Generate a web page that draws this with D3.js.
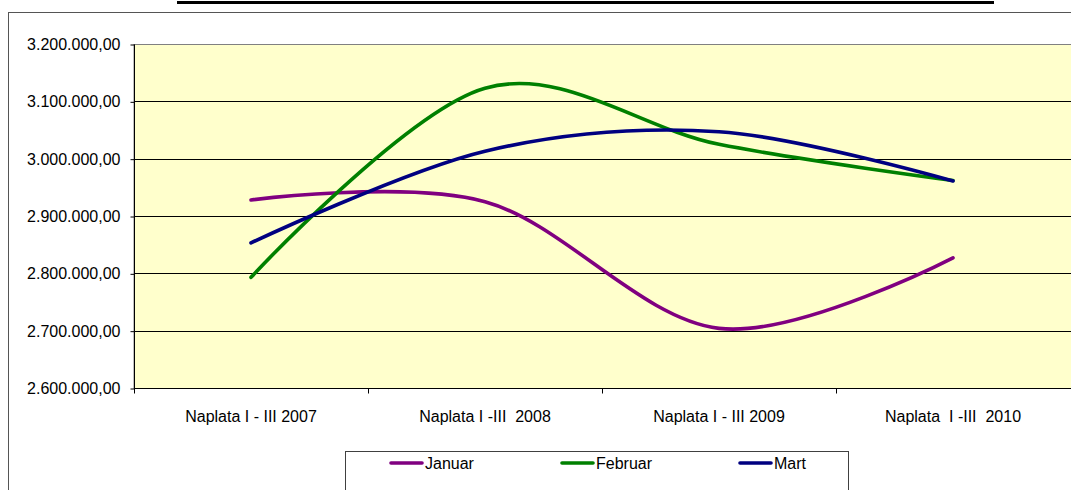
<!DOCTYPE html>
<html>
<head>
<meta charset="utf-8">
<script src="https://cdn.jsdelivr.net/npm/d3@7"></script>
<style>
  body { margin: 0; background: #fff; }
  svg { display: block; font-family: "Liberation Sans", Arial, sans-serif; }
  text { white-space: pre; }
</style>
</head>
<body>
<div id="chart"></div>
<script>
var
  categories = ["Naplata I - III 2007", "Naplata I -III  2008", "Naplata I - III 2009", "Naplata  I -III  2010"],
  seriesNames = ["Januar", "Februar", "Mart"],
  januar = [2928000, 2925000, 2704000, 2827000],
  februar = [2793000, 3123000, 3025000, 2962000],
  mart = [2853000, 3013000, 3047000, 2961000],
  yTicks = [2600000, 2700000, 2800000, 2900000, 3000000, 3100000, 3200000],
  seriesColors = ["#800080", "#008000", "#000080"];

var
  WIDTH = 1071,
  HEIGHT = 490,
  PLOT_LEFT = 134,
  PLOT_RIGHT = 1070,
  PLOT_TOP = 44,
  PLOT_BOTTOM = 388,
  FONT_SIZE = 16;

var seriesValues = [januar, februar, mart];

var svg = d3.select("#chart").append("svg")
  .attr("width", WIDTH)
  .attr("height", HEIGHT);

// title rule at the very top
svg.append("rect")
  .attr("x", 177).attr("y", 1)
  .attr("width", 817).attr("height", 3)
  .attr("fill", "#000");

// chart area border (runs off the right and bottom edge)
svg.append("rect")
  .attr("x", 8.5).attr("y", 12.5)
  .attr("width", 1080).attr("height", 500)
  .attr("fill", "none")
  .attr("stroke", "#555");

var x = d3.scaleBand()
  .domain(categories)
  .range([PLOT_LEFT, PLOT_RIGHT]);

var y = d3.scaleLinear()
  .domain([2600000, 3200000])
  .range([PLOT_BOTTOM, PLOT_TOP]);

function fmt(v){
  var s = d3.format(",.2f")(v);
  return s.replace(/,/g, "#").replace(/\./g, ",").replace(/#/g, ".");
}

// plot area
svg.append("rect")
  .attr("x", PLOT_LEFT).attr("y", PLOT_TOP + 0.5)
  .attr("width", WIDTH - PLOT_LEFT + 5).attr("height", PLOT_BOTTOM - PLOT_TOP)
  .attr("fill", "#FFFFCC")
  .attr("stroke", "#808080");

// gridlines
svg.append("g").selectAll("line")
  .data(yTicks.slice(1, -1))
  .join("line")
  .attr("x1", PLOT_LEFT).attr("x2", WIDTH)
  .attr("y1", function(d){ return Math.round(y(d)) + 0.5; })
  .attr("y2", function(d){ return Math.round(y(d)) + 0.5; })
  .attr("stroke", "#000");

// y axis
var yAxis = svg.append("g")
  .attr("transform", "translate(" + (PLOT_LEFT + 0.5) + ",0.5)")
  .call(d3.axisLeft(y).tickValues(yTicks).tickFormat(fmt).tickSize(4).tickPadding(10));
yAxis.select(".domain").attr("stroke", "#000").attr("d", "M0," + PLOT_TOP + "V" + PLOT_BOTTOM);
yAxis.selectAll("text")
  .attr("font-size", FONT_SIZE)
  .attr("font-family", "Liberation Sans, Arial, sans-serif")
  .attr("fill", "#000");

// x axis, ticks at category boundaries
var xAxis = svg.append("g")
  .attr("transform", "translate(0," + (PLOT_BOTTOM + 0.5) + ")");
xAxis.append("line")
  .attr("x1", PLOT_LEFT).attr("x2", WIDTH)
  .attr("stroke", "#000");
xAxis.selectAll(".tick")
  .data(categories)
  .join("line")
  .attr("class", "tick")
  .attr("x1", function(d){ return Math.round(x(d)) + 0.5; })
  .attr("x2", function(d){ return Math.round(x(d)) + 0.5; })
  .attr("y1", 0).attr("y2", 5)
  .attr("stroke", "#000");
xAxis.selectAll("text")
  .data(categories)
  .join("text")
  .attr("x", function(d){ return x(d) + x.bandwidth() / 2; })
  .attr("y", 33)
  .attr("text-anchor", "middle")
  .attr("font-size", FONT_SIZE)
  .text(function(d){ return d; });

// series lines
var line = d3.line()
  .x(function(d, i){ return x(categories[i]) + x.bandwidth() / 2; })
  .y(function(d){ return y(d); })
  .curve(d3.curveCardinal.tension(0));

svg.append("g").selectAll("path")
  .data(seriesValues)
  .join("path")
  .attr("d", line)
  .attr("fill", "none")
  .attr("stroke", function(d, i){ return seriesColors[i]; })
  .attr("stroke-width", 3.6)
  .attr("stroke-linecap", "round")
  .attr("stroke-linejoin", "round");

// legend
var legend = svg.append("g");
legend.append("rect")
  .attr("x", 345.5).attr("y", 451.5)
  .attr("width", 503).attr("height", 60)
  .attr("fill", "#fff")
  .attr("stroke", "#404040");

var legendX = [391, 562, 740];
var item = legend.selectAll("g.item")
  .data(seriesNames)
  .join("g")
  .attr("class", "item")
  .attr("transform", function(d, i){ return "translate(" + legendX[i] + ",0)"; });
item.append("line")
  .attr("x1", 0).attr("x2", 31)
  .attr("y1", 463).attr("y2", 463)
  .attr("stroke", function(d, i){ return seriesColors[i]; })
  .attr("stroke-width", 3.6)
  .attr("stroke-linecap", "round");
item.append("text")
  .attr("x", 34).attr("y", 469)
  .attr("font-size", FONT_SIZE)
  .text(function(d){ return d; });
</script>
</body>
</html>
